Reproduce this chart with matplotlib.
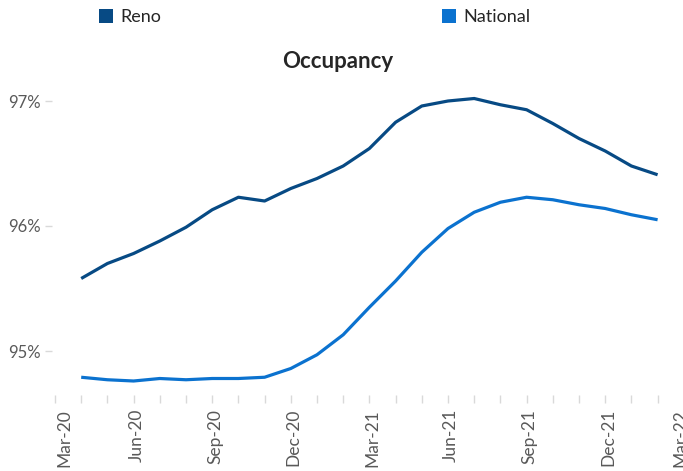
import matplotlib
matplotlib.use("Agg")
import matplotlib.pyplot as plt
import matplotlib.transforms as mtransforms
import numpy as np
from matplotlib.patches import Patch
from matplotlib.ticker import FuncFormatter, MultipleLocator

# ---- data ----
months = ["Apr-20", "May-20", "Jun-20", "Jul-20", "Aug-20", "Sep-20", "Oct-20", "Nov-20",
          "Dec-20", "Jan-21", "Feb-21", "Mar-21", "Apr-21", "May-21", "Jun-21", "Jul-21",
          "Aug-21", "Sep-21", "Oct-21", "Nov-21", "Dec-21", "Jan-22", "Feb-22"]
reno = [95.58, 95.70, 95.78, 95.88, 95.99, 96.13, 96.23, 96.20,
        96.30, 96.38, 96.48, 96.62, 96.83, 96.96, 97.00, 97.02,
        96.97, 96.93, 96.82, 96.70, 96.60, 96.48, 96.41]
national = [94.79, 94.77, 94.76, 94.78, 94.77, 94.78, 94.78, 94.79,
            94.86, 94.97, 95.13, 95.35, 95.56, 95.79, 95.98, 96.11,
            96.19, 96.23, 96.21, 96.17, 96.14, 96.09, 96.05]
tick_labels = ["Mar-20", "Jun-20", "Sep-20", "Dec-20", "Mar-21", "Jun-21", "Sep-21", "Dec-21", "Mar-22"]
title = "Occupancy"
series_names = ["Reno", "National"]

RENO_C = "#074A84"
NAT_C = "#0B72CF"
GRAY = "#595959"
TICK_C = "#D9D9D9"

plt.rcParams['font.family'] = ['Lato', 'DejaVu Sans']

W, H = 683, 471
fig = plt.figure(figsize=(W / 100, H / 100), dpi=100)

# pixel geometry
px_left, px_right = 52, 700
px_top, px_bottom = 88, 395
ax = fig.add_axes([px_left / W, 1 - px_bottom / H, (px_right - px_left) / W, (px_bottom - px_top) / H])

# x: month index, Mar-20 = 0 at pixel 55, 26.2 px / month
x0_px, per_month = 55.0, 26.2
ax.set_xlim((px_left - x0_px) / per_month, (px_right - x0_px) / per_month)
# y: 97% at pixel 101, 125 px per 1%
y97_px, per_pct = 101.0, 125.0
ax.set_ylim(97 - (px_bottom - y97_px) / per_pct, 97 + (y97_px - px_top) / per_pct)

x = np.arange(1, len(months) + 1)
ax.plot(x, reno, color=RENO_C, lw=2.3, solid_joinstyle='round', solid_capstyle='butt')
ax.plot(x, national, color=NAT_C, lw=2.3, solid_joinstyle='round', solid_capstyle='butt')

for s in ax.spines.values():
    s.set_visible(False)

ax.set_xticks(np.arange(0, 3 * len(tick_labels), 3))
ax.set_xticklabels(tick_labels, rotation=90, fontsize=12.5, color=GRAY)
ax.xaxis.set_minor_locator(MultipleLocator(1))
ax.tick_params(axis='x', which='both', length=6, width=1, color=TICK_C, pad=4)
labels = ax.get_xticklabels()
for i, lbl in enumerate(labels):
    dx = 3
    if i == 0:
        dx = 9
    elif i == len(labels) - 1:
        dx = -3
    off = mtransforms.ScaledTranslation(dx / 100, 0, fig.dpi_scale_trans)
    lbl.set_transform(lbl.get_transform() + off)

ax.set_yticks([95, 96, 97])
ax.yaxis.set_major_formatter(FuncFormatter(lambda v, p: f"{v:.0f}%"))
ax.tick_params(axis='y', length=5, width=1, color=TICK_C, labelsize=12, labelcolor=GRAY, pad=3)

fig.text(338 / W, 1 - 61 / H, title, ha='center', va='center', fontsize=16,
         fontweight='bold', color="#262626")

h1 = Patch(facecolor=RENO_C, edgecolor='none')
h2 = Patch(facecolor=NAT_C, edgecolor='none')
kw = dict(frameon=False, fontsize=13, handlelength=0.8, handleheight=0.8,
          handletextpad=0.4, borderpad=0, borderaxespad=0, labelcolor="#262626")
fig.legend([h1], [series_names[0]], loc='center left', bbox_to_anchor=(99 / W, 1 - 17 / H), **kw)
fig.legend([h2], [series_names[1]], loc='center left', bbox_to_anchor=(442 / W, 1 - 17 / H), **kw)

fig.savefig("out.png", dpi=100)
